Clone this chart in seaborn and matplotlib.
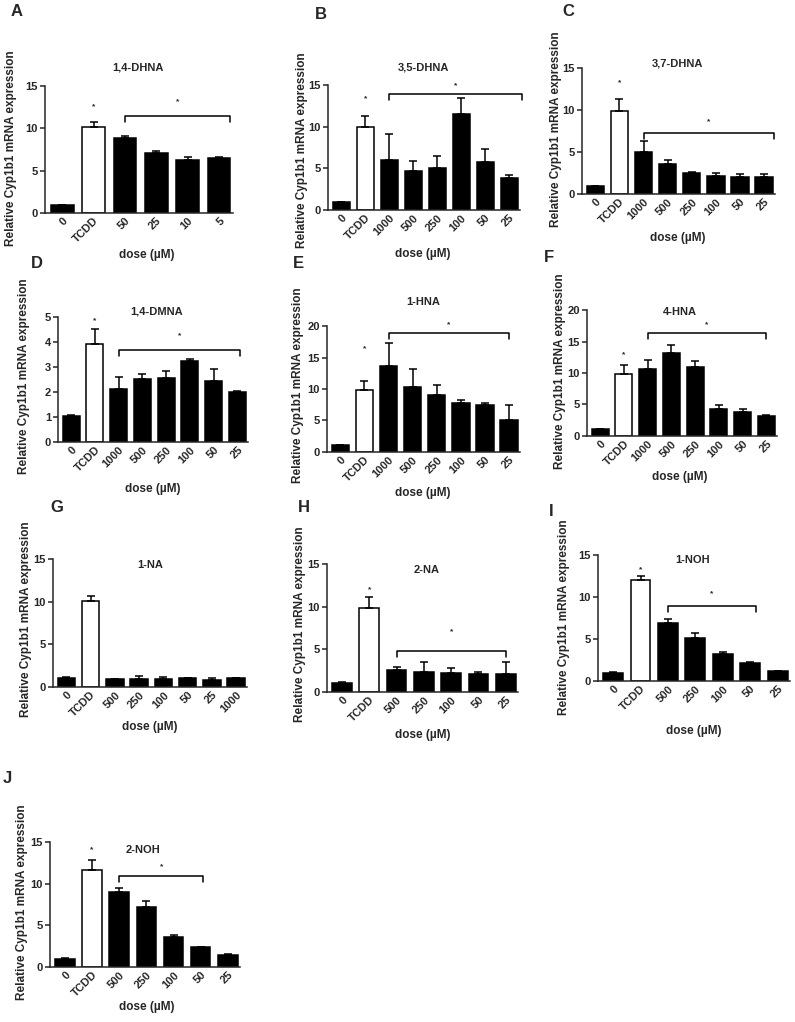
import matplotlib.pyplot as plt
import seaborn as sns
import pandas as pd

# ---- data

doses_a = ["0", "TCDD", "50", "25", "10", "5"]
mean_a = [1.0, 10.2, 8.8, 7.1, 6.25, 6.55]
err_a = [0.0, 0.55, 0.35, 0.2, 0.4, 0.12]

doses_b = ["0", "TCDD", "1000", "500", "250", "100", "50", "25"]
mean_b = [1.0, 9.9, 6.05, 4.7, 5.05, 11.5, 5.8, 3.8]
err_b = [0.0, 1.4, 3.1, 1.2, 1.45, 1.95, 1.5, 0.45]

doses_c = ["0", "TCDD", "1000", "500", "250", "100", "50", "25"]
mean_c = [1.0, 9.85, 5.05, 3.55, 2.45, 2.2, 2.07, 2.0]
err_c = [0.0, 1.4, 1.2, 0.45, 0.2, 0.35, 0.3, 0.35]

doses_d = ["0", "TCDD", "1000", "500", "250", "100", "50", "25"]
mean_d = [1.02, 3.93, 2.12, 2.52, 2.55, 3.25, 2.43, 1.98]
err_d = [0.07, 0.57, 0.47, 0.18, 0.27, 0.07, 0.47, 0.07]

doses_e = ["0", "TCDD", "1000", "500", "250", "100", "50", "25"]
mean_e = [1.05, 9.85, 13.7, 10.35, 9.05, 7.8, 7.5, 5.1]
err_e = [0.0, 1.4, 3.65, 2.9, 1.6, 0.4, 0.3, 2.4]

doses_f = ["0", "TCDD", "1000", "500", "250", "100", "50", "25"]
mean_f = [1.05, 9.85, 10.6, 13.2, 11.0, 4.25, 3.86, 3.17]
err_f = [0.0, 1.35, 1.5, 1.2, 0.95, 0.7, 0.4, 0.15]

doses_g = ["0", "TCDD", "500", "250", "100", "50", "25", "1000"]
mean_g = [1.06, 10.05, 0.9, 0.98, 0.98, 1.05, 0.8, 1.05]
err_g = [0.12, 0.6, 0.08, 0.3, 0.2, 0.02, 0.3, 0.0]

doses_h = ["0", "TCDD", "500", "250", "100", "50", "25"]
mean_h = [1.05, 9.82, 2.6, 2.35, 2.22, 2.14, 2.1]
err_h = [0.08, 1.36, 0.28, 1.22, 0.58, 0.16, 1.37]

doses_i = ["0", "TCDD", "500", "250", "100", "50", "25"]
mean_i = [1.0, 12.0, 6.87, 5.08, 3.17, 2.18, 1.2]
err_i = [0.05, 0.5, 0.47, 0.67, 0.24, 0.05, 0.05]

doses_j = ["0", "TCDD", "500", "250", "100", "50", "25"]
mean_j = [1.0, 11.62, 8.95, 7.24, 3.66, 2.39, 1.47]
err_j = [0.05, 1.18, 0.55, 0.68, 0.24, 0.05, 0.05]

titles = ["1,4-DHNA", "3,5-DHNA", "3,7-DHNA", "1,4-DMNA", "1-HNA",
          "4-HNA", "1-NA", "2-NA", "1-NOH", "2-NOH"]
letters = ["A", "B", "C", "D", "E", "F", "G", "H", "I", "J"]
ymax = [15, 15, 15, 5, 20, 20, 15, 15, 15, 15]
ystep = [5, 5, 5, 1, 5, 5, 5, 5, 5, 5]

# significance: (first bar, last bar, bracket height, star height), TCDD star height
brackets = [(2, 5.35, 11.4, 13.1), (2, 7.55, 13.9, 14.9), (2, 7.4, 7.25, 8.6),
            (2, 7.1, 3.67, 4.27), (2, 7, 18.9, 20.2), (2, 7, 16.3, 17.6),
            None, (2, 6, 4.75, 7.1), (2, 5.2, 8.93, 10.4), (2, 5.1, 10.9, 12.0)]
tcdd_star = [12.5, 13.3, 13.2, 4.87, 16.4, 12.9, None, 12.0, 13.3, 14.1]

series = [(doses_a, mean_a, err_a), (doses_b, mean_b, err_b), (doses_c, mean_c, err_c),
          (doses_d, mean_d, err_d), (doses_e, mean_e, err_e), (doses_f, mean_f, err_f),
          (doses_g, mean_g, err_g), (doses_h, mean_h, err_h), (doses_i, mean_i, err_i),
          (doses_j, mean_j, err_j)]

# ---- layout in pixels: axes box (left, top, right, bottom) and text anchors
W, H = 795, 1022
boxes = [(45, 86, 233, 213), (328, 85, 520, 210), (582, 68, 775, 194),
         (58, 317, 248, 442), (327, 326, 520, 452), (587, 310, 777, 436),
         (53, 559, 247, 687), (327, 564, 518, 692), (598, 555, 790, 681),
         (50, 842, 240, 967)]
title_px = [(138, 68), (423, 68), (677, 63), (157, 312), (423, 302),
            (680, 312), (150, 565), (427, 570), (693, 560), (143, 850)]
letter_px = [(17, 12), (321, 14), (568, 12), (37, 264), (298, 263),
             (549, 258), (57, 507), (304, 508), (551, 511), (7, 778)]
ylabel_px = [(11, 148), (302, 150), (556, 129), (24, 376), (298, 385),
             (560, 371), (26, 619), (300, 624), (564, 617), (22, 902)]
xlabel_px = [(147, 255), (423, 254), (678, 238), (153, 489), (423, 493),
             (680, 477), (150, 727), (423, 735), (694, 731), (147, 1007)]

sns.set_theme(style="ticks")
plt.rcParams["font.family"] = ["Liberation Sans", "DejaVu Sans"]
plt.rcParams["font.weight"] = "bold"
plt.rcParams["axes.linewidth"] = 1.1

fig = plt.figure(figsize=(W / 100, H / 100), dpi=100)


def fx(px):
    return px / W


def fy(py):
    return 1 - py / H


for k, (doses, means, errs) in enumerate(series):
    l, t, r, b = boxes[k]
    ax = fig.add_axes([fx(l), fy(b), (r - l) / W, (b - t) / H])

    df = pd.DataFrame({"dose": doses, "value": means})
    palette = {d: ("white" if d == "TCDD" else "black") for d in doses}
    sns.barplot(data=df, x="dose", y="value", hue="dose", palette=palette,
                order=doses, width=0.72, edgecolor="black", linewidth=1.1,
                saturation=1, legend=False, errorbar=None, ax=ax)

    xs = list(range(len(doses)))
    ax.errorbar(xs, means, yerr=[[0] * len(errs), errs], fmt="none",
                ecolor="black", elinewidth=1.1, capsize=3.2, capthick=1.1)

    ax.set_xlim(-0.55, len(doses) - 0.55)
    ax.set_ylim(0, ymax[k])
    ax.set_yticks(range(0, ymax[k] + 1, ystep[k]))
    ax.set_xlabel("")
    ax.set_ylabel("")
    ax.tick_params(axis="y", length=3.5, width=1.1, pad=1.5, labelsize=8)
    ax.tick_params(axis="x", length=0, pad=2, labelsize=8)
    for lab in ax.get_xticklabels():
        lab.set_rotation(45)
        lab.set_ha("right")
        lab.set_rotation_mode("anchor")
        lab.set_fontweight("bold")
    for lab in ax.get_yticklabels():
        lab.set_fontweight("bold")
    sns.despine(ax=ax)

    span = ymax[k]
    br = brackets[k]
    if br is not None:
        x0, x1, yb, ys = br
        d = 0.045 * span
        ax.plot([x0, x0, x1, x1], [yb - d, yb, yb, yb - d], color="black",
                lw=1.1, clip_on=False)
        ax.text((x0 + x1) / 2, ys, "*", ha="center", va="center",
                fontsize=6, clip_on=False)
    if tcdd_star[k] is not None:
        ax.text(1, tcdd_star[k], "*", ha="center", va="center", fontsize=6,
                clip_on=False)

    fig.text(fx(title_px[k][0]), fy(title_px[k][1]), titles[k], ha="center",
             va="center", fontsize=8, fontweight="bold")
    fig.text(fx(letter_px[k][0]), fy(letter_px[k][1]), letters[k], ha="center",
             va="center", fontsize=12, fontweight="bold")
    fig.text(fx(ylabel_px[k][0]), fy(ylabel_px[k][1]),
             "Relative Cyp1b1 mRNA expression", rotation=90, ha="center",
             va="center", fontsize=8.5, fontweight="bold")
    fig.text(fx(xlabel_px[k][0]), fy(xlabel_px[k][1]), "dose (µM)",
             ha="center", va="center", fontsize=8.5, fontweight="bold")

fig.savefig("out.png", dpi=100, facecolor="white")
